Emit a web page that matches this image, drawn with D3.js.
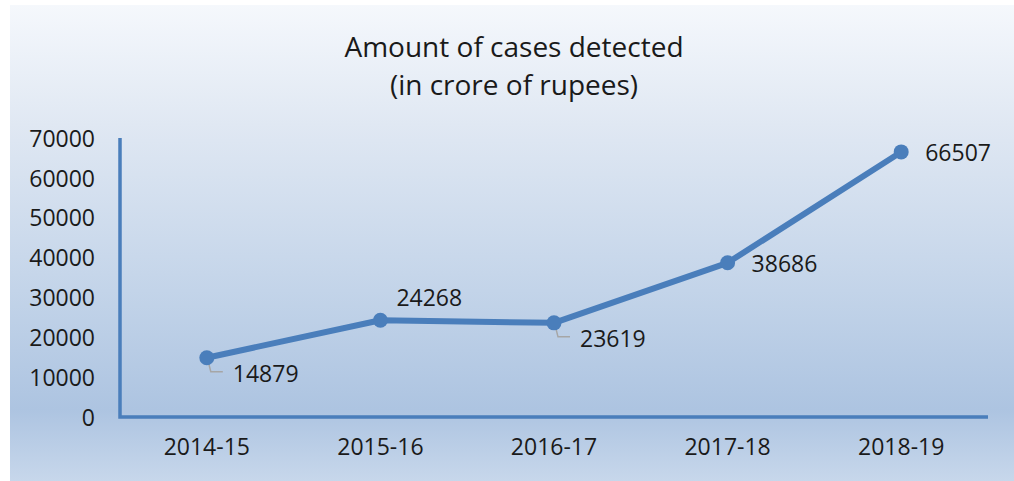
<!DOCTYPE html>
<html>
<head>
<meta charset="utf-8">
<script src="https://cdn.jsdelivr.net/npm/d3@7"></script>
<style>
  html, body { margin: 0; padding: 0; background: #ffffff; }
  svg { display: block; }
  text { font-family: "Open Sans", "Noto Sans", sans-serif; fill: #1a1a1a; }
</style>
</head>
<body>
<svg id="chart" width="1014" height="481"></svg>
<script>
const categories = ["2014-15", "2015-16", "2016-17", "2017-18", "2018-19"];
const values = [14879, 24268, 23619, 38686, 66507];
const yTicks = [0, 10000, 20000, 30000, 40000, 50000, 60000, 70000];
const titleLines = ["Amount of cases detected", "(in crore of rupees)"];
// label placement: "br" = below-right with leader, "ar" = above-right, "r" = right
const labelPlacement = ["br", "ar", "br", "r", "r"];

const W = 1014, H = 481;
const svg = d3.select("#chart");

const defs = svg.append("defs");
const grad = defs.append("linearGradient").attr("id", "bg").attr("x1", 0).attr("y1", 0).attr("x2", 0).attr("y2", 1);
[["0%", "#f5f8fc"], ["25%", "#e0e8f3"], ["60%", "#c3d4e9"], ["85%", "#adc4e1"], ["100%", "#c7d7eb"]]
  .forEach(([o, c]) => grad.append("stop").attr("offset", o).attr("stop-color", c));

svg.append("rect").attr("x", 10).attr("y", 5).attr("width", W - 10).attr("height", H - 5).attr("fill", "url(#bg)");

const x0 = 120, x1 = 988, yTop = 138, yBot = 417;
const x = d3.scaleBand().domain(categories).range([x0, x1]).padding(0);
const y = d3.scaleLinear().domain([0, 70000]).range([yBot, yTop]);
const cx = d => x(d) + x.bandwidth() / 2;

// title
svg.append("g").selectAll("text").data(titleLines).join("text")
  .attr("x", 514).attr("y", (d, i) => 57 + i * 38)
  .attr("text-anchor", "middle").attr("font-size", 28).text(d => d);

// y axis labels
const yAxis = d3.axisLeft(y).tickValues(yTicks).tickSize(0).tickPadding(25).tickFormat(d3.format("d"));
const gy = svg.append("g").attr("transform", `translate(${x0},0)`).call(yAxis);
gy.select(".domain").remove();
gy.selectAll("text").attr("font-size", 23).attr("fill", "#1a1a1a").attr("font-family", "'Open Sans', sans-serif").attr("dy", "0.36em");

// x axis labels
const xAxis = d3.axisBottom(x).tickSize(0).tickPadding(22);
const gx = svg.append("g").attr("transform", `translate(0,${yBot})`).call(xAxis);
gx.select(".domain").remove();
gx.selectAll("text").attr("font-size", 23).attr("fill", "#1a1a1a").attr("font-family", "'Open Sans', sans-serif");

// axis lines
svg.append("path").attr("d", `M${x0},${yTop} L${x0},${yBot} L${x1},${yBot}`)
  .attr("fill", "none").attr("stroke", "#4a7ebb").attr("stroke-width", 3.5);

const data = categories.map((c, i) => ({ c, v: values[i], p: labelPlacement[i] }));

// line
svg.append("path").datum(data)
  .attr("d", d3.line().x(d => cx(d.c)).y(d => y(d.v)))
  .attr("fill", "none").attr("stroke", "#4a7ebb").attr("stroke-width", 6).attr("stroke-linejoin", "round");

// leaders
data.filter(d => d.p === "br").forEach(d => {
  const px = cx(d.c), py = y(d.v);
  svg.append("path").attr("d", `M${px + 1},${py + 2} L${px + 4},${py + 14} L${px + 16},${py + 14}`)
    .attr("fill", "none").attr("stroke", "#a6a6a6").attr("stroke-width", 1.5);
});

// markers
svg.append("g").selectAll("circle").data(data).join("circle")
  .attr("cx", d => cx(d.c)).attr("cy", d => y(d.v)).attr("r", 7.5).attr("fill", "#4a7ebb");

// data labels
const off = { br: [26, 24], ar: [16, -14], r: [24, 9] };
svg.append("g").selectAll("text").data(data).join("text")
  .attr("x", d => cx(d.c) + off[d.p][0]).attr("y", d => y(d.v) + off[d.p][1])
  .attr("font-size", 23).text(d => d.v);
</script>
</body>
</html>
